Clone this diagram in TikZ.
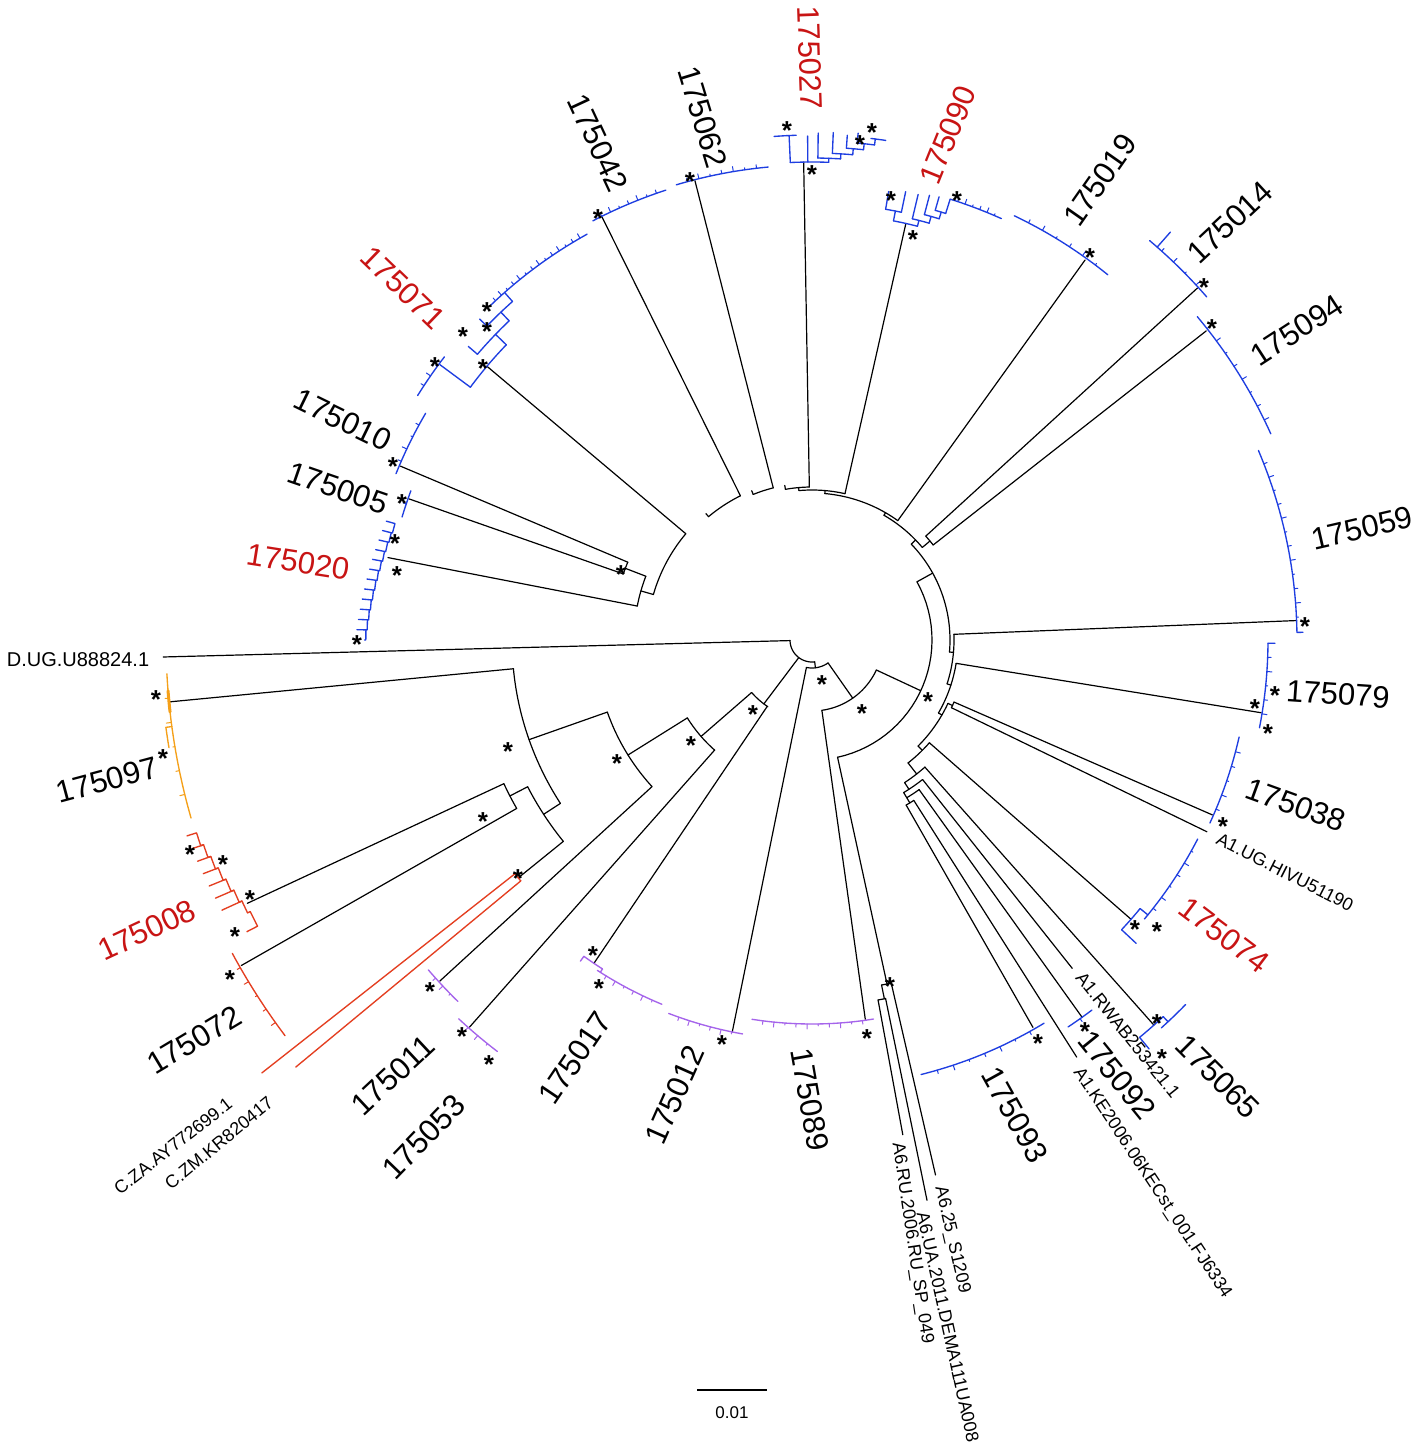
\documentclass[tikz,border=0pt]{standalone}
\usepackage{fontspec}
\setmainfont{Liberation Sans}
\definecolor{colblue}{RGB}{30,62,225}
\definecolor{colred}{RGB}{228,62,32}
\definecolor{colorange}{RGB}{245,160,25}
\definecolor{colpurple}{RGB}{165,100,235}
\definecolor{collab}{RGB}{200,20,20}
\tikzset{
 bb/.style={draw=black, line width=1.2pt, line cap=round, line join=round},
 bu/.style={draw=colblue, line width=1.35pt, line cap=round, line join=round},
 rr/.style={draw=colred, line width=1.35pt, line cap=round, line join=round},
 oo/.style={draw=colorange, line width=1.35pt, line cap=round, line join=round},
 pp/.style={draw=colpurple, line width=1.35pt, line cap=round, line join=round},
 lab/.style={font=\fontsize{31}{31}\selectfont, inner sep=0pt},
 labr/.style={lab, text=collab},
 rf/.style={font=\fontsize{18}{18}\selectfont, inner sep=0pt},
 stk/.style={font=\fontsize{26}{26}\selectfont\bfseries, inner sep=0pt, anchor=base, yshift=-15pt},
}
\newcommand{\brad}[4][bb]{\draw[#1] (#2:#3) -- (#2:#4);}
\newcommand{\barc}[4][bb]{\draw[#1] plot[domain=#3:#4,samples=30] (\x:#2);}
\newcommand{\bcomb}[5][bu]{%
  \draw[#1] plot[domain=#3:#4,samples=30] (\x:#2);
  \foreach \kk in {1,...,#5}{%
    \pgfmathsetmacro{\qa}{#3+(#4-#3)*\kk/(#5+1)}%
    \pgfmathsetmacro{\ql}{2+1.5*mod(\kk,3)}%
    \draw[#1, line width=1pt] (\qa:#2) -- (\qa:{#2+\ql});
  }%
}
\newcounter{stc}
\newcommand{\bstar}[2]{\stepcounter{stc}\node[stk] (st\arabic{stc}) at (#1,#2) {*};}
\begin{document}
\begin{tikzpicture}[x=1pt,y=-1pt]
\useasboundingbox (0,0) rectangle (1417,1450);
\fill[white] (0,0) rectangle (1417,1450);
\begin{scope}[shift={(812,640)}]
% ---- root
\barc{22}{83}{178.5}
\brad{178.5}{22}{649}
\brad{127}{22}{80}
\brad{83}{22}{28}
% ---- lower-left group
\barc{80}{123.5}{139}
\brad{124}{80}{390}
\brad{139}{80}{147}
\barc{147}{131.5}{148}
\brad{131.5}{147}{517}
\brad{148}{147}{217}
\barc{217}{137.5}{160.6}
\brad{137.5}{217}{505}
\brad{160.6}{217}{300}
\barc{300}{147}{174.5}
\brad{174.5}{300}{646}
\brad{147}{300}{320}
\barc{320}{141}{152.7}
\brad{141}{320}{378}
\brad{152.7}{320}{340}
\barc{340}{150.3}{155}
\brad{155}{340}{623}
\brad{150.3}{340}{657}
% C refs
\barc[rr]{378}{140.4}{141.8}
\brad[rr]{141.8}{378}{700}
\brad[rr]{140.4}{378}{670}
% ---- N0, N1, N2
\barc{28}{55}{101.5}
\brad{101.5}{28}{400}
\brad{55}{28}{71}
\barc{71}{25}{82}
\brad{82}{71}{383}
\brad{25}{71}{120}
\barc{120}{-29}{77.7}
\brad{77.7}{120}{352}
\brad{-29}{120}{138}
% A6 group
\barc{352}{77}{78.6}
\brad{77}{352}{549}
\brad{78.6}{352}{366}
\barc{366}{78.4}{79.6}
\brad{78.4}{366}{572}
\brad{79.6}{366}{503}
% ---- N3
\barc{138}{-44}{5}
\brad{-44}{138}{144}
\brad{5}{138}{142}
% right ladder
\barc{142}{-2.3}{18}
\brad{-2.3}{142}{485}
\brad{18}{142}{146}
\barc{146}{9.2}{30}
\brad{9.2}{146}{455}
\brad{30}{146}{150}
\barc{150}{25}{45}
\brad{25}{150}{155}
\brad{45}{150}{156}
\barc{155}{23.6}{25.9}
\brad{23.6}{155}{437}
\brad{25.9}{155}{439}
\barc{156}{41.2}{52}
\brad{41.2}{156}{424}
\brad{52}{156}{170}
\barc{170}{48.4}{57}
\brad{48.4}{170}{515}
\brad{57}{170}{178}
\barc{178}{51.6}{59}
\brad{51.6}{178}{419}
\brad{59}{178}{184}
\barc{184}{54.4}{59}
\brad{54.4}{184}{464}
\brad{59}{184}{190}
\barc{190}{57.6}{60.3}
\brad{57.6}{190}{494}
\brad{60.3}{190}{446}
% top ladder
\barc{144}{-60}{-40}
\brad{-40}{144}{154}
\brad{-60}{144}{147}
\barc{154}{-42.4}{-38.1}
\brad{-42.4}{154}{522}
\brad{-38.1}{154}{501}
\barc{147}{-54.3}{-85}
\brad{-54.3}{147}{468}
\brad{-85}{147}{150}
\barc{150}{-77.3}{-95}
\brad{-77.3}{150}{427}
\brad{-95}{150}{153}
\barc{153}{-91}{-100}
\brad{-91}{153}{478}
\brad{-100}{153}{157}
\barc{157}{-104.3}{-112}
\brad{-104.3}{157}{474}
\brad{-112}{157}{161}
\barc{161}{-116.4}{-130}
\brad{-116.4}{161}{472}
\brad{-130}{161}{165}
\barc{165}{-139.9}{-164}
\brad{-139.9}{165}{425}
\brad{-164}{165}{178}
\barc{178}{-159}{-169}
\brad{-169}{178}{432}
\brad{-159}{178}{200}
\barc{200}{-157.1}{-160.7}
\brad{-157.1}{200}{447}
\brad{-160.7}{200}{427}
% ---- coloured clades
% 175059
\bcomb{485}{-23}{-1}{12}
\brad[bu]{-0.9}{485}{491}
% 175079
\bcomb{456}{0.4}{11.1}{5}
\brad[bu]{0.4}{456}{463}
% 175038
\bcomb{438}{24.7}{12.8}{5}
% 175074
\barc[bu]{424}{39.3}{43.1}
\brad[bu]{43.1}{424}{444}
\brad[bu]{39.3}{424}{434}
\bcomb{434}{40}{27.3}{6}
% 175065
\barc[bu]{515}{47}{50.5}
\brad[bu]{47}{515}{522}
\barc[bu]{522}{48}{44.3}
\brad[bu]{50.5}{515}{530}
% 175092
\bcomb{464}{56.5}{52.9}{1}
% 175093
\bcomb{448}{75.9}{58.8}{7}
% 175094
\bcomb{503}{-40}{-24.2}{8}
% 175014
\bcomb{523}{-49.8}{-41}{4}
\brad[bu]{-48.7}{523}{543}
% 175019
\bcomb{470}{-64.5}{-51}{6}
% 175090
\barc[bu]{427}{-79}{-75.7}
\brad[bu]{-79}{427}{437}
\barc[bu]{437}{-80.3}{-78.2}
\brad[bu]{-80.3}{437}{455}
\brad[bu]{-78.2}{437}{458}
\brad[bu]{-75.7}{427}{433}
\barc[bu]{433}{-76.6}{-74.3}
\brad[bu]{-76.6}{433}{458}
\brad[bu]{-74.3}{433}{440}
\barc[bu]{440}{-75.2}{-73.2}
\brad[bu]{-75.2}{440}{460}
\brad[bu]{-73.2}{440}{447}
\barc[bu]{447}{-74}{-72.6}
\brad[bu]{-74}{447}{461}
\brad[bu]{-72.6}{447}{462}
\bcomb{462}{-72.6}{-65.8}{6}
% 175027
\barc[bu]{478}{-92.6}{-88}
\brad[bu]{-92.6}{478}{505}
\barc[bu]{505}{-94.3}{-91.8}
\brad[bu]{-90.5}{478}{504}
\brad[bu]{-88}{478}{482}
\barc[bu]{482}{-89.3}{-86.6}
\brad[bu]{-89.3}{482}{507}
\brad[bu]{-86.6}{482}{487}
\barc[bu]{487}{-87.6}{-85.2}
\brad[bu]{-87.6}{487}{508}
\brad[bu]{-85.2}{487}{493}
\barc[bu]{493}{-86}{-84}
\brad[bu]{-86}{493}{506}
\brad[bu]{-84}{493}{499}
\barc[bu]{499}{-84.8}{-82.8}
\brad[bu]{-84.8}{499}{509}
\brad[bu]{-82.8}{499}{505}
\barc[bu]{505}{-83.3}{-81.6}
% 175062, 175042
\bcomb{475}{-106.6}{-95.3}{7}
\bcomb{473}{-117.6}{-108}{7}
% 175071
\barc[bu]{425}{-143.5}{-136}
\brad[bu]{-143.5}{425}{463}
\bcomb{464}{-148.2}{-142.4}{3}
\brad[bu]{-136}{425}{440}
\barc[bu]{440}{-139.5}{-133.5}
\brad[bu]{-139.5}{440}{452}
\brad[bu]{-133.5}{440}{452}
\barc[bu]{452}{-136}{-131.5}
\brad[bu]{-136}{452}{462}
\brad[bu]{-131.5}{452}{464}
\bcomb{464}{-134}{-119}{14}
% 175010, 175005
\bcomb{448}{-158.2}{-149.6}{4}
\bcomb{428}{-163.3}{-159.6}{1}
% 175020 ladder
\foreach \i in {0,...,11}{
  \pgfmathsetmacro{\qa}{-164.4-\i*1.3}
  \pgfmathsetmacro{\qb}{-164.4-(\i+1)*1.3}
  \pgfmathsetmacro{\qr}{433+\i*1.2}
  \pgfmathsetmacro{\qs}{433+(\i+1)*1.2}
  \draw[bu] (\qa:{\qr+9}) -- (\qa:\qr) -- (\qb:\qr) -- (\qb:\qs);
}
% 175097 orange
\bcomb[oo]{646}{177}{164}{5}
\barc[oo, line width=3pt]{646}{175.5}{173.6}
\brad[oo]{172.3}{646}{652}
\barc[oo]{652}{172.3}{170.5}
% 175008 ladder
\foreach \i in {0,...,6}{
  \pgfmathsetmacro{\qa}{162.6-\i*1.2}
  \pgfmathsetmacro{\qb}{162.6-(\i+1)*1.2}
  \pgfmathsetmacro{\qr}{645-\i*3}
  \pgfmathsetmacro{\qs}{645-(\i+1)*3}
  \pgfmathsetmacro{\qt}{645-\i*3+10+2*\i}
  \draw[rr] (\qa:\qt) -- (\qa:\qr) -- (\qb:\qr) -- (\qb:\qs);
}
\barc[rr]{624}{154.2}{152.7}
\brad[rr]{152.7}{624}{636}
% 175072
\bcomb[rr]{659}{151.6}{143.1}{5}
% purple clades
\bcomb[pp]{506}{139.3}{134.4}{3}
\bcomb[pp]{518}{133}{127.4}{3}
\barc[pp]{390}{125.8}{122.5}
\brad[pp]{125.8}{390}{396}
\brad[pp]{122.5}{390}{394}
\bcomb[pp]{394}{123}{112.4}{6}
\bcomb[pp]{400}{111}{100}{6}
\bcomb[pp]{384}{99}{80.8}{10}
\end{scope}
% ---- support stars
\bstar{1305}{620}\bstar{1212}{322}\bstar{1204}{281}\bstar{1090}{251}
\bstar{891}{195}\bstar{957}{195}\bstar{913}{233}
\bstar{787}{125}\bstar{872}{127}\bstar{860}{139}\bstar{812}{169}
\bstar{690}{175}\bstar{598}{212}
\bstar{487}{305}\bstar{487}{325}\bstar{463}{330}\bstar{435}{360}\bstar{483}{362}
\bstar{393}{460}\bstar{402}{497}\bstar{621}{568}
\bstar{395}{537}\bstar{397}{569}\bstar{357}{638}
\bstar{156}{693}\bstar{163}{752}
\bstar{190}{848}\bstar{223}{858}\bstar{250}{893}\bstar{235}{930}\bstar{230}{973}
\bstar{518}{872}\bstar{508}{745}\bstar{483}{815}
\bstar{753}{708}\bstar{691}{739}\bstar{617}{757}
\bstar{430}{985}\bstar{462}{1030}\bstar{489}{1058}
\bstar{593}{949}\bstar{599}{982}\bstar{722}{1038}\bstar{867}{1032}\bstar{890}{980}
\bstar{1038}{1037}\bstar{1085}{1025}\bstar{1157}{1017}\bstar{1162}{1052}
\bstar{1135}{923}\bstar{1157}{925}\bstar{1223}{820}
\bstar{1275}{689}\bstar{1255}{702}\bstar{1268}{727}
\bstar{822}{678}\bstar{862}{707}\bstar{928}{695}
% ---- labels
\node[lab, rotate=13] (l59) at (1362,528) {175059};
\node[lab, rotate=33] (l94) at (1297,330) {175094};
\node[lab, rotate=43] (l14) at (1230,222) {175014};
\node[lab, rotate=55] (l19) at (1100,180) {175019};
\node[labr, rotate=68] (l90) at (948,135) {175090};
\node[labr, rotate=-88] (l27) at (810,58) {175027};
\node[lab, rotate=-73] (l62) at (703,117) {175062};
\node[lab, rotate=-65] (l42) at (598,143) {175042};
\node[labr, rotate=-44] (l71) at (403,288) {175071};
\node[lab, rotate=-26] (l10) at (343,420) {175010};
\node[lab, rotate=-19] (l05) at (338,488) {175005};
\node[labr, rotate=-9] (l20) at (298,562) {175020};
\node[rf, font=\fontsize{20}{20}\selectfont] (ldug) at (78,660) {D.UG.U88824.1};
\node[lab, rotate=15] (l97) at (107,780) {175097};
\node[labr, rotate=25] (l08) at (147,930) {175008};
\node[lab, rotate=31] (l72) at (194,1040) {175072};
\node[rf, rotate=38] (lcza) at (173,1146) {C.ZA.AY772699.1};
\node[rf, rotate=39.5] (lczm) at (219,1143) {C.ZM.KR820417};
\node[lab, rotate=43] (l11) at (393,1075) {175011};
\node[lab, rotate=46] (l53) at (424,1137) {175053};
\node[lab, rotate=56] (l17) at (575,1058) {175017};
\node[lab, rotate=66] (l12) at (675,1095) {175012};
\node[lab, rotate=-80] (l89) at (810,1100) {175089};
\node[rf, rotate=-81.5] (la6ru) at (912,1243) {A6.RU.2006.RU\_SP\_049};
\node[rf, rotate=-77.5] (la6ua) at (948,1327) {A6.UA.2011.DEMA111UA008};
\node[rf, rotate=-77] (la625) at (952,1240) {A6.25\_S1209};
\node[lab, rotate=-61] (l93) at (1015,1115) {175093};
\node[rf, rotate=-56.5] (la1ke) at (1152,1183) {A1.KE2006.06KECst\_001.FJ6334};
\node[lab, rotate=-51] (l92) at (1117,1075) {175092};
\node[rf, rotate=-51.4] (la1rw) at (1128,1035) {A1.RWAB253421.1};
\node[lab, rotate=-45] (l65) at (1218,1077) {175065};
\node[labr, rotate=-37] (l74) at (1224,935) {175074};
\node[rf, rotate=-27] (la1ug) at (1285,872) {A1.UG.HIVU51190};
\node[lab, rotate=-20] (l38) at (1296,805) {175038};
\node[lab, rotate=-4] (l79) at (1338,694) {175079};
% ---- scale bar
\coordinate (sb1) at (697,1390);
\coordinate (sb2) at (767,1390);
\draw[line width=2.5pt] (sb1) -- (sb2);
\node[font=\fontsize{17}{17}\selectfont, inner sep=0pt] (sbl) at (732,1413) {0.01};
\end{tikzpicture}
\end{document}
